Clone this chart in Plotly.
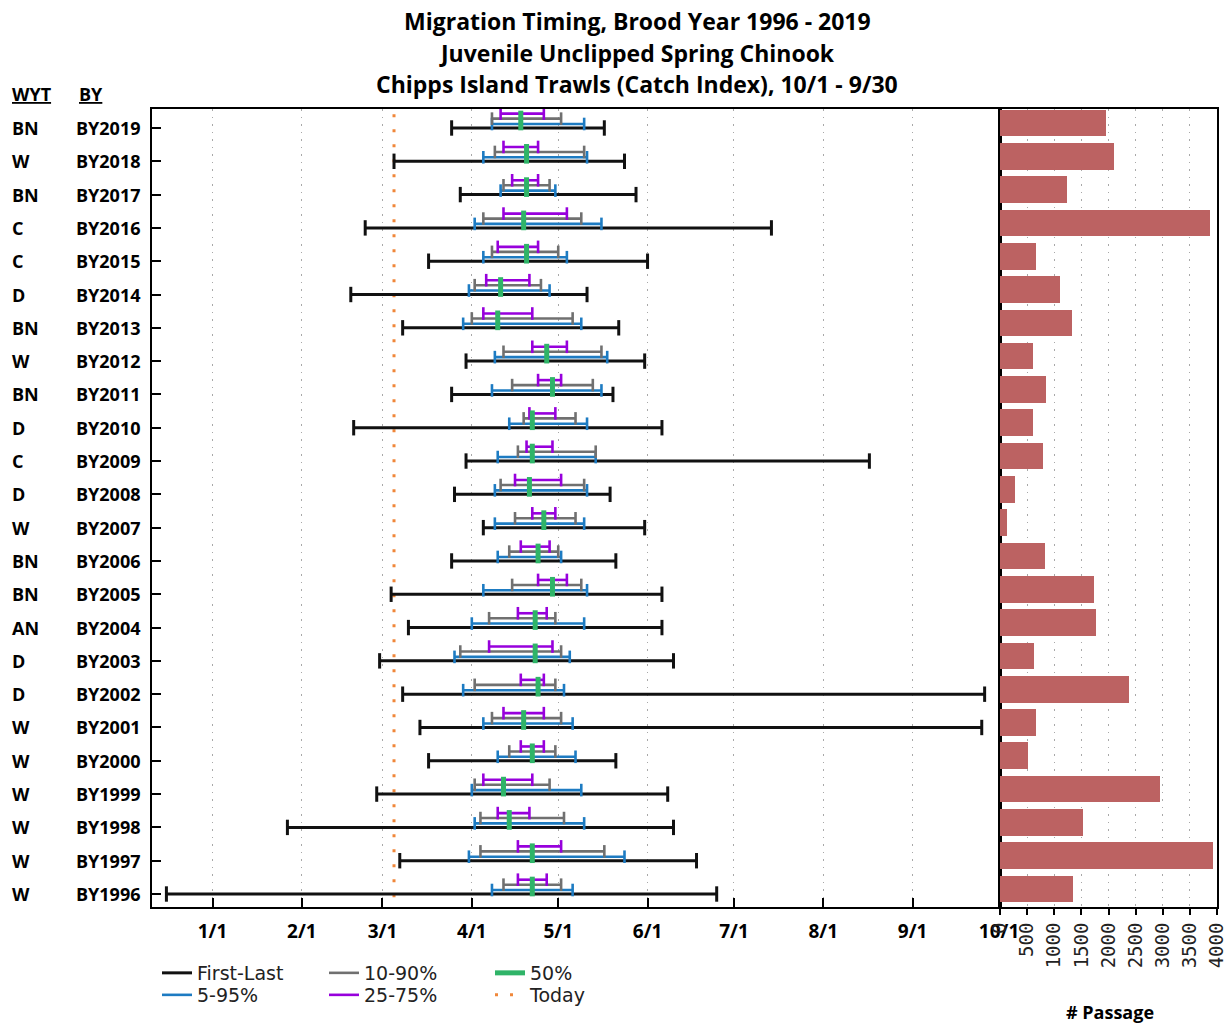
import plotly.graph_objects as go
from datetime import datetime

# ---- data -----------------------------------------------------------------
brood_years = ["BY2019", "BY2018", "BY2017", "BY2016", "BY2015", "BY2014",
               "BY2013", "BY2012", "BY2011", "BY2010", "BY2009", "BY2008",
               "BY2007", "BY2006", "BY2005", "BY2004", "BY2003", "BY2002",
               "BY2001", "BY2000", "BY1999", "BY1998", "BY1997", "BY1996"]
water_year_type = ["BN", "W", "BN", "C", "C", "D", "BN", "W", "BN", "D", "C", "D",
                   "W", "BN", "BN", "AN", "D", "D", "W", "W", "W", "W", "W", "W"]

first_day = ["3/25", "3/5", "3/28", "2/23", "3/17", "2/18", "3/8", "3/30", "3/25", "2/19",
             "3/30", "3/26", "4/5", "3/25", "3/4", "3/10", "2/28", "3/8", "3/14", "3/17",
             "2/27", "1/27", "3/7", "12/16"]
p05 = ["4/8", "4/5", "4/11", "4/2", "4/5", "3/31", "3/29", "4/9", "4/8", "4/14",
       "4/10", "4/9", "4/9", "4/10", "4/5", "4/1", "3/26", "3/29", "4/5", "4/10",
       "4/1", "4/2", "3/31", "4/8"]
p10 = ["4/8", "4/9", "4/12", "4/5", "4/8", "4/2", "4/1", "4/12", "4/15", "4/19",
       "4/17", "4/11", "4/16", "4/14", "4/15", "4/7", "3/28", "4/2", "4/8", "4/14",
       "4/2", "4/4", "4/4", "4/12"]
p25 = ["4/11", "4/12", "4/15", "4/12", "4/10", "4/6", "4/5", "4/22", "4/24", "4/21",
       "4/20", "4/16", "4/22", "4/18", "4/24", "4/17", "4/7", "4/18", "4/12", "4/18",
       "4/5", "4/10", "4/17", "4/17"]
p50 = ["4/18", "4/20", "4/20", "4/19", "4/20", "4/11", "4/10", "4/27", "4/29", "4/22",
       "4/22", "4/21", "4/26", "4/24", "4/29", "4/23", "4/23", "4/24", "4/19", "4/22",
       "4/12", "4/14", "4/22", "4/22"]
p75 = ["4/26", "4/24", "4/24", "5/4", "4/24", "4/21", "4/22", "5/4", "5/2", "4/30",
       "4/29", "5/2", "4/30", "4/28", "5/4", "4/27", "4/29", "4/26", "4/26", "4/26",
       "4/22", "4/21", "5/2", "4/27"]
p90 = ["5/2", "5/10", "4/28", "5/9", "5/1", "4/25", "5/6", "5/16", "5/13", "5/7",
       "5/14", "5/10", "5/7", "5/1", "5/9", "4/30", "5/2", "4/30", "5/2", "4/30",
       "4/28", "5/3", "5/17", "5/2"]
p95 = ["5/10", "5/11", "4/30", "5/16", "5/4", "4/28", "5/9", "5/18", "5/16", "5/11",
       "5/14", "5/11", "5/10", "5/2", "5/11", "5/10", "5/5", "5/3", "5/6", "5/7",
       "5/9", "5/10", "5/24", "5/6"]
last_day = ["5/17", "5/24", "5/28", "7/14", "6/1", "5/11", "5/22", "5/31", "5/20", "6/6",
            "8/17", "5/19", "5/31", "5/21", "6/6", "6/6", "6/10", "9/26", "9/25", "5/21",
            "6/8", "6/10", "6/18", "6/25"]

passage = [1960, 2100, 1240, 3880, 670, 1115, 1320, 605, 845, 605, 790, 275,
           130, 825, 1730, 1765, 625, 2370, 660, 515, 2940, 1525, 3930, 1340]

today = "3/5"
month_ticks = ["1/1", "2/1", "3/1", "4/1", "5/1", "6/1", "7/1", "8/1", "9/1", "10/1"]
passage_ticks = [0, 500, 1000, 1500, 2000, 2500, 3000, 3500, 4000]

SEASON_START_YEAR = 2018  # dummy years: season runs 10/1/2018 through 10/1/2019


def to_date(md, end_of_season=False):
    """Place a month/day on a common Oct-Sep season axis."""
    m, d = (int(v) for v in md.split("/"))
    in_first_year = m >= 10 and not end_of_season
    return datetime(SEASON_START_YEAR if in_first_year else SEASON_START_YEAR + 1, m, d)


n = len(brood_years)
ypos = [n - 1 - i for i in range(n)]  # first row drawn at the top

BLACK, BLUE, GREY, PURPLE = "#111111", "#1d7bc2", "#707070", "#9700dc"
GREEN, ORANGE, BAR = "#2fb468", "#f0873a", "#bc6262"

fig = go.Figure()

# "Today" reference line
td = to_date(today)
fig.add_trace(go.Scatter(
    x=[td, td], y=[-1, n + 1], mode="lines", name="Today",
    line=dict(color=ORANGE, width=3, dash="3px,12px"),
    legend="legend6", hoverinfo="skip"))


def add_range(lo, hi, offset, color, width, cap, name, legend):
    xs, ys = [], []
    cx, cy = [], []
    for a, b, y in zip(lo, hi, ypos):
        xs += [to_date(a), to_date(b), None]
        ys += [y + offset, y + offset, None]
        cx += [to_date(a), to_date(b)]
        cy += [y + offset, y + offset]
    fig.add_trace(go.Scatter(
        x=xs, y=ys, mode="lines", name=name, legend=legend,
        line=dict(color=color, width=width), hoverinfo="skip"))
    fig.add_trace(go.Scatter(
        x=cx, y=cy, mode="markers", showlegend=False, hoverinfo="skip",
        marker=dict(symbol="line-ns", size=cap, line=dict(color=color, width=width))))


add_range(first_day, last_day, 0.0, BLACK, 3, 11, "First-Last", "legend")
add_range(p05, p95, 0.12, BLUE, 2.6, 9, "5-95%", "legend2")
add_range(p10, p90, 0.28, GREY, 2.6, 9, "10-90%", "legend3")
add_range(p25, p75, 0.43, PURPLE, 2.6, 9, "25-75%", "legend4")

# median marker: short vertical stroke through the stacked ranges
mx, my = [], []
for m, y in zip(p50, ypos):
    mx += [to_date(m), to_date(m), None]
    my += [y - 0.07, y + 0.52, None]
fig.add_trace(go.Scatter(
    x=mx, y=my, mode="lines", name="50%", legend="legend5",
    line=dict(color=GREEN, width=5), hoverinfo="skip"))

# passage totals
fig.add_trace(go.Bar(
    x=passage, y=[y + 0.15 for y in ypos], orientation="h", width=0.8,
    marker=dict(color=BAR, line=dict(width=0)), xaxis="x2", yaxis="y2",
    showlegend=False, hoverinfo="skip"))

# ---- layout ---------------------------------------------------------------
W, H = 1231, 1024
L, R, T, B = 152, 14, 109, 117
PW, PH = W - L - R, H - T - B
split = (1000 - L) / PW


def px_x(px):
    return (px - L) / PW


def px_y(py):
    return (H - B - py) / PH


bold = dict(family="Open Sans", color="black", weight="bold")

annotations = []
for text, py in [("Migration Timing, Brood Year 1996 - 2019", 21),
                 ("Juvenile Unclipped Spring Chinook", 53),
                 ("Chipps Island Trawls (Catch Index), 10/1 - 9/30", 84)]:
    annotations.append(dict(text=text, x=px_x(637), y=px_y(py), xref="paper", yref="paper",
                            xanchor="center", yanchor="middle", showarrow=False,
                            font=dict(size=23, **bold)))
annotations.append(dict(text="<u>WYT</u>", x=px_x(10), y=px_y(94), xref="paper", yref="paper",
                        xanchor="left", yanchor="middle", showarrow=False, font=dict(size=18, **bold)))
annotations.append(dict(text="<u>BY</u>", x=px_x(77), y=px_y(94), xref="paper", yref="paper",
                        xanchor="left", yanchor="middle", showarrow=False, font=dict(size=18, **bold)))
for w, by, y in zip(water_year_type, brood_years, ypos):
    annotations.append(dict(text=w, x=px_x(10), y=y, xref="paper", yref="y",
                            xanchor="left", yanchor="middle", showarrow=False,
                            font=dict(size=18, **bold)))
    annotations.append(dict(text=by, x=px_x(74), y=y, xref="paper", yref="y",
                            xanchor="left", yanchor="middle", showarrow=False,
                            font=dict(size=18, **bold)))
annotations.append(dict(text="# Passage", x=px_x(1110), y=px_y(1012), xref="paper", yref="paper",
                        xanchor="center", yanchor="middle", showarrow=False,
                        font=dict(size=18, **bold)))

legend_common = dict(orientation="v", xanchor="left", yanchor="top", bgcolor="rgba(0,0,0,0)",
                     font=dict(family="DejaVu Sans", size=19, color="#222222"),
                     itemwidth=30)
legend_slots = {"legend": (157, 954), "legend2": (157, 976),
                "legend3": (324, 954), "legend4": (324, 976),
                "legend5": (490, 954), "legend6": (490, 976)}
legends = {k: dict(x=px_x(px), y=px_y(py), **legend_common) for k, (px, py) in legend_slots.items()}

GRID_DASH = "1.5px,6px"
tick_dates = [to_date(t, end_of_season=(t == month_ticks[-1])) for t in month_ticks]

fig.update_layout(
    width=W, height=H, margin=dict(l=L, r=R, t=T, b=B, pad=0, autoexpand=False),
    paper_bgcolor="white", plot_bgcolor="white", hovermode=False,
    bargap=0, annotations=annotations,
    xaxis=dict(
        domain=[0, split], type="date", automargin=False,
        range=[datetime(2018, 12, 11), datetime(2019, 10, 1, 8)],
        tickvals=tick_dates, ticktext=month_ticks,
        ticks="inside", ticklen=9, tickwidth=2, tickcolor="black",
        showline=True, linecolor="black", linewidth=2, mirror=True,
        showgrid=True, gridcolor="#a8a8a8", griddash=GRID_DASH, gridwidth=1,
        zeroline=False, tickfont=dict(size=19, **bold), ticklabelstandoff=6,
        ticklabeloverflow="allow"),
    yaxis=dict(
        domain=[0, 1], range=[-0.39, n - 0.43], tickvals=ypos, showticklabels=False,
        ticks="inside", ticklen=9, tickwidth=2, tickcolor="black", automargin=False,
        showline=True, linecolor="black", linewidth=2, mirror=True,
        showgrid=False, zeroline=False),
    xaxis2=dict(
        domain=[split, 1], anchor="y2", range=[0, 4000], tickvals=passage_ticks,
        tickangle=-90, ticks="outside", ticklen=6, tickwidth=2, tickcolor="black",
        showline=True, linecolor="black", linewidth=2, mirror=True, automargin=False,
        showgrid=True, gridcolor="#a8a8a8", griddash=GRID_DASH, gridwidth=1,
        layer="above traces", zeroline=False, ticklabeloverflow="allow",
        tickfont=dict(family="DejaVu Sans Mono", size=19, color="#222222")),
    yaxis2=dict(
        domain=[0, 1], anchor="x2", matches="y", showticklabels=False, ticks="",
        showline=True, linecolor="black", linewidth=2, mirror=True, automargin=False,
        showgrid=False, zeroline=False),
    **legends,
)

fig.write_html("out.html")
